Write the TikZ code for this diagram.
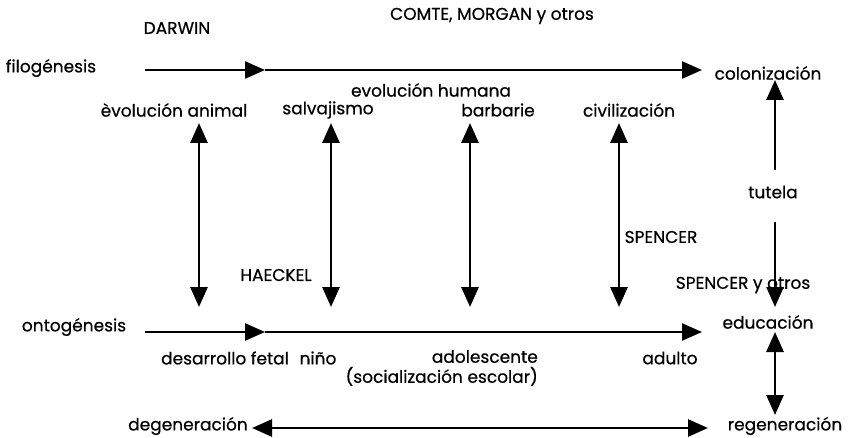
\documentclass[tikz,border=0pt]{standalone}
\usepackage{fontspec}
\setmainfont{Poppins}[FakeBold=0.6]
\usetikzlibrary{arrows.meta}
\begin{document}
\begin{tikzpicture}[x=1pt,y=-1pt,
    flecha/.style={line width=2.4pt,-{Triangle[length=20pt,width=17pt]}},
    doble/.style={line width=2.8pt,{Triangle[length=20pt,width=17pt]}-{Triangle[length=20pt,width=17pt]}},
    linea/.style={line width=2.8pt}]
\tikzset{every node/.style={inner sep=0pt,font=\fontsize{17}{20}\selectfont}}
%\tikzset{every node/.style={draw,red}}
\useasboundingbox (0,0) rectangle (856,438);
% autores
\node (darwin) at (177,28) {DARWIN};
\node (comte) at (492,16) {COMTE, MORGAN y otros};
% filogenesis
\node (fil) at (51,68) {filogénesis};
\node (colon) at (768,73) {colonización};
\node (evol) at (431,90) {evolución humana};
\node (anim) at (174,110) {èvolución animal};
\node (salv) at (328,110) {salvajismo};
\node (barb) at (498,110) {barbarie};
\node (civil) at (629,110) {civilización};
\node (tutela) at (773,192) {tutela};
\node (spencer) at (661,237) {SPENCER};
\node (haeckel) at (276,275) {HAECKEL};
\node (spotros) at (743,285) {SPENCER y otros};
% ontogenesis
\node (onto) at (74,327) {ontogénesis};
\node (educ) at (768,322) {educación};
\node (fetal) at (225,358) {desarrollo fetal};
\node (nino) at (318,358) {niño};
\node[align=right,anchor=north east] (adol) at (538,350) {adolescente\\(socialización escolar)};
\node (adulto) at (670,358) {adulto};
\node (degen) at (188,426) {degeneración};
\node (regen) at (785,426) {regeneración};
% puntos de las flechas
\coordinate (f0) at (145,70);
\coordinate (f1) at (265,70);
\coordinate (f2) at (702,70);
\coordinate (o0) at (145,332);
\coordinate (o1) at (265,332);
\coordinate (o2) at (702,332);
\draw[flecha] (f0) -- (f1);
\draw[flecha] (f1) -- (f2);
\draw[flecha] (o0) -- (o1);
\draw[flecha] (o1) -- (o2);
\foreach \n/\x in {a/199,s/331,b/470,c/619}{
    \coordinate (\n0) at (\x,123);
    \coordinate (\n1) at (\x,307);
    \draw[doble] (\n0) -- (\n1);
}
\draw[linea,{Triangle[length=20pt,width=17pt]}-] (colon.south -| 775,85) -- (775,170);
\draw[flecha] (775,222) -- (775,307);
\draw[doble] (775,332) -- (775,415);
\draw[doble] (252,428) -- (708,428);
\end{tikzpicture}
\end{document}
